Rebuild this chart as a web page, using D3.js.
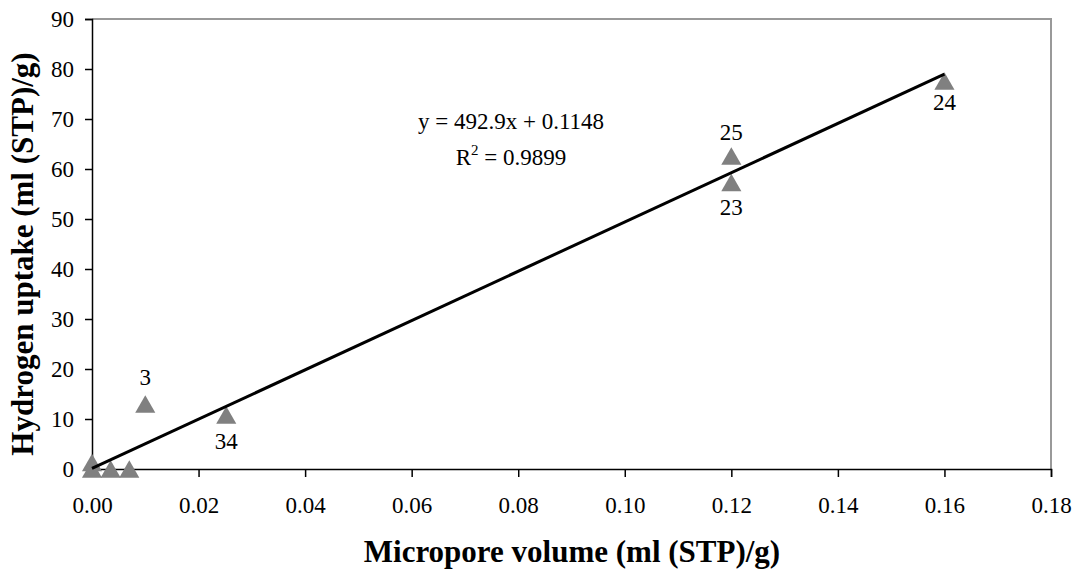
<!DOCTYPE html>
<html><head><meta charset="utf-8">
<script src="https://cdn.jsdelivr.net/npm/d3@7"></script>
<style>body{margin:0;background:#fff}text{font-family:"Liberation Serif","Times New Roman",serif}</style>
</head><body><svg id="c" width="1077" height="572"></svg>
<script>
const microporeVolume = [0.000, 0.000, 0.0035, 0.007, 0.010, 0.0252, 0.120, 0.120, 0.160];
const hydrogenUptake  = [1.3,   0.0,   0.0,    0.0,   13.0,  10.8,   62.6,  57.3,  77.6];
const pointLabels     = ["",    "",    "",     "",    "3",   "34",   "25",  "23",  "24"];
const labelDy         = [0, 0, 0, 0, -27, 26, -24, 24, 21];
const xTicks = [0, 0.02, 0.04, 0.06, 0.08, 0.10, 0.12, 0.14, 0.16, 0.18];
const yTicks = [0, 10, 20, 30, 40, 50, 60, 70, 80, 90];
const slope = 492.9, intercept = 0.1148, rSquared = 0.9899;
const fitRange = [0, 0.16];

const svg = d3.select("#c");
const L = 92, R = 1051, T = 19, B = 469;
const x = d3.scaleLinear().domain([0, 0.18]).range([L, R]);
const y = d3.scaleLinear().domain([0, 90]).range([B, T]);

// frame (top & right gray)
svg.append("path").attr("d", `M${L},${T}H${R}V${B}`).attr("fill","none").attr("stroke","#999").attr("stroke-width",2);

const xa = svg.append("g").attr("transform", `translate(0,${B})`)
  .call(d3.axisBottom(x).tickValues(xTicks).tickFormat(d3.format(".2f")).tickSizeOuter(0).tickSize(8).tickPadding(20));
const ya = svg.append("g").attr("transform", `translate(${L},0)`)
  .call(d3.axisLeft(y).tickValues(yTicks).tickSizeOuter(0).tickSize(7).tickPadding(11));
[xa, ya].forEach(g => {
  g.selectAll("path,line").attr("stroke", "#000").attr("stroke-width", 1.5);
  g.selectAll("text").attr("font-size", 23).attr("font-family", "Liberation Serif").attr("fill", "#000");
});

// points (triangle bbox centred on the data point)
const triSize = 175;
const triOff = Math.sqrt(triSize / (Math.sqrt(3) * 3)) / 2;
const tri = d3.symbol().type(d3.symbolTriangle).size(triSize);
svg.append("g").selectAll("path").data(microporeVolume).join("path")
  .attr("d", tri)
  .attr("transform", (d, i) => `translate(${x(d)},${y(hydrogenUptake[i]) + triOff})`)
  .attr("fill", "#808080");

// fit line
svg.append("line")
  .attr("x1", x(fitRange[0])).attr("y1", y(slope * fitRange[0] + intercept))
  .attr("x2", x(fitRange[1])).attr("y2", y(slope * fitRange[1] + intercept))
  .attr("stroke", "#000").attr("stroke-width", 3);

// point labels
svg.append("g").selectAll("text").data(microporeVolume).join("text")
  .attr("x", d => x(d))
  .attr("y", (d, i) => y(hydrogenUptake[i]) + labelDy[i])
  .attr("dy", "0.35em").attr("text-anchor", "middle").attr("font-size", 23)
  .text((d, i) => pointLabels[i]);

// equation
svg.append("text").attr("x", 511).attr("y", 129).attr("text-anchor", "middle").attr("font-size", 23)
  .text(`y = ${slope}x + ${intercept}`);
const r2 = svg.append("text").attr("x", 511).attr("y", 165).attr("text-anchor", "middle").attr("font-size", 23);
r2.append("tspan").text("R");
r2.append("tspan").attr("dy", -10).attr("font-size", 15).text("2");
r2.append("tspan").attr("dy", 10).text(` = ${rSquared}`);

// axis titles
svg.append("text").attr("x", 572).attr("y", 562).attr("text-anchor", "middle")
  .attr("font-size", 31).attr("font-weight", "bold").text("Micropore volume (ml (STP)/g)");
svg.append("text").attr("transform", `translate(33,254) rotate(-90)`).attr("text-anchor", "middle")
  .attr("font-size", 31).attr("font-weight", "bold").text("Hydrogen uptake (ml (STP)/g)");
</script></body></html>
